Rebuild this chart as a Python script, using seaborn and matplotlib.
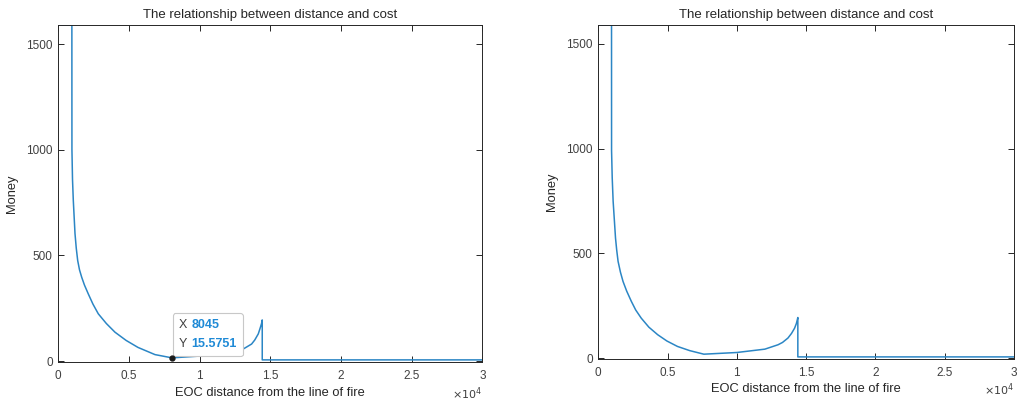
import numpy as np
import pandas as pd
import matplotlib
matplotlib.use("Agg")
import matplotlib.pyplot as plt
import seaborn as sns
from matplotlib.ticker import FixedLocator, FuncFormatter
from matplotlib.offsetbox import TextArea, HPacker, VPacker, AnnotationBbox

# ---- data ----
left_x = [0, 960, 965, 1005, 1061, 1181, 1270, 1372, 1500, 1655, 1850, 2122, 2450,
          2829, 3400, 4010, 4800, 5637, 6840, 8045, 8607, 10000, 11500, 12500,
          12970, 13200, 13677, 13900, 14150, 14300, 14380, 14430, 14430, 30000]
left_y = [1590, 1590, 1000, 860, 761, 604, 535, 476, 432, 397, 360, 318, 270,
          224, 178, 137, 98, 65, 31, 15.5751, 18, 24, 35, 46,
          53, 62, 81, 100, 129, 160, 178, 195, 6, 6]

right_x = [0, 955, 958, 1005, 1071, 1243, 1330, 1428, 1600, 1786, 2050, 2386, 2700,
           3100, 3650, 4286, 4950, 5714, 6600, 7621, 10000, 12026, 12979, 13300,
           13693, 13950, 14171, 14300, 14350, 14407, 14407, 30000]
right_y = [1590, 1590, 990, 860, 749, 573, 515, 462, 410, 366, 320, 271, 230,
           191, 148, 112, 82, 56, 36, 19, 27, 43, 64, 75,
           96, 118, 143, 165, 178, 194, 6, 6]

x_ticks = [0, 5000, 10000, 15000, 20000, 25000, 30000]
y_ticks = [0, 500, 1000, 1500]

datatip_x = 8045
datatip_y = 15.5751

title = "The relationship between distance and cost"
xlabel = "EOC distance from the line of fire"
ylabel = "Money"

# ---- style ----
sns.set_theme(style="white")
plt.rcParams["font.family"] = ["Liberation Sans", "DejaVu Sans"]
plt.rcParams["axes.edgecolor"] = "#262626"
plt.rcParams["axes.linewidth"] = 0.7

fig = plt.figure(figsize=(10.19, 4.03), dpi=100)
W, H = 1019, 403
ax1 = fig.add_axes([58.3 / W, (H - 362) / H, 424 / W, 337 / H])
ax2 = fig.add_axes([598.3 / W, (H - 359) / H, 415.5 / W, 334 / H])

line_color = "#2b86c5"
txt_color = "#262626"

for ax, xs, ys in [(ax1, left_x, left_y), (ax2, right_x, right_y)]:
    df = pd.DataFrame({"x": xs, "y": ys})
    sns.lineplot(data=df, x="x", y="y", ax=ax, estimator=None, sort=False,
                 color=line_color, linewidth=1.1)
    ax.set_xlim(0, 30000)
    ax.set_ylim(-4, 1590)
    ax.xaxis.set_major_locator(FixedLocator(x_ticks))
    ax.yaxis.set_major_locator(FixedLocator(y_ticks))
    ax.xaxis.set_major_formatter(FuncFormatter(lambda v, p: f"{v/1e4:g}"))
    ax.yaxis.set_major_formatter(FuncFormatter(lambda v, p: f"{v:g}"))
    ax.tick_params(direction="in", length=4, width=0.7, colors=txt_color,
                   labelsize=8.5, top=True, right=True, bottom=True, left=True,
                   labelcolor="#404040")
    ax.tick_params(axis="x", pad=6)
    ax.tick_params(axis="y", pad=4)
    for s in ax.spines.values():
        s.set_visible(True)
        s.set_color("#262626")
        s.set_linewidth(0.7)
    ax.set_title(title, fontsize=9.5, color="#262626", pad=5)
    ax.set_xlabel(xlabel, fontsize=9.3, color="#262626", labelpad=3)
    ax.set_ylabel(ylabel, fontsize=9.3, color="#262626", labelpad=6)
    ax.text(1.0, -0.093, r"$\times 10^{4}$", transform=ax.transAxes,
            ha="right", va="center", fontsize=8, color="#404040")
    ax.set_facecolor("white")

# data tip on the left plot
ax1.plot([datatip_x], [datatip_y], "o", color="#1a1a1a", markersize=3.5, zorder=5)
blue = "#1f8ad6"
grey = "#404040"
row1 = HPacker(children=[TextArea("X", textprops=dict(color=grey, fontsize=9)),
                         TextArea(f"{datatip_x}", textprops=dict(color=blue, fontsize=9, fontweight="bold"))],
               align="baseline", pad=0, sep=3)
row2 = HPacker(children=[TextArea("Y", textprops=dict(color=grey, fontsize=9)),
                         TextArea(f"{datatip_y}", textprops=dict(color=blue, fontsize=9, fontweight="bold"))],
               align="baseline", pad=0, sep=3)
box = VPacker(children=[row1, row2], align="left", pad=0, sep=5)
ab = AnnotationBbox(box, (datatip_x, datatip_y), xybox=(5.0, 5.6),
                    xycoords="data", boxcoords="offset points",
                    box_alignment=(0, 0), frameon=True, fontsize=10,
                    bboxprops=dict(boxstyle="round,pad=0.45,rounding_size=0.2",
                                   ec="#c8c8c8", fc="white", lw=0.8))
ax1.add_artist(ab)

fig.patch.set_facecolor("white")
fig.savefig("out.png", dpi=100, facecolor="white")
